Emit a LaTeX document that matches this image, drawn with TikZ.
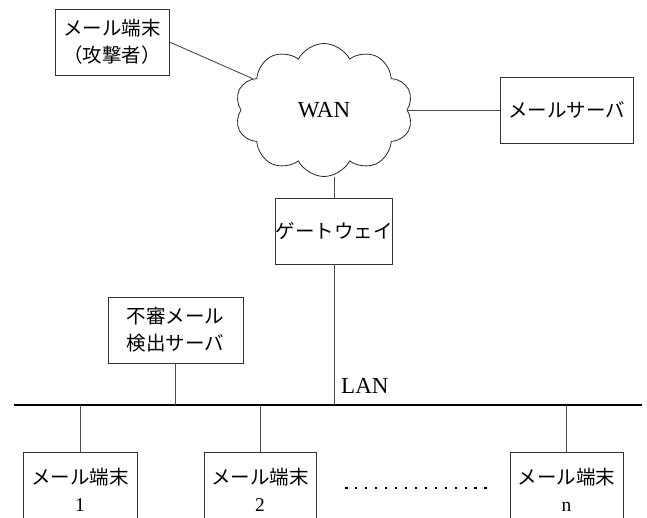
\documentclass[tikz,border=0pt]{standalone}
\usepackage{fontspec}
\setmainfont{Liberation Serif}
\newfontfamily\jp{Noto Sans CJK JP}
\usetikzlibrary{shapes.symbols}
\begin{document}
\begin{tikzpicture}[x=1pt,y=-1pt,
  box/.style={draw=black!80, line width=0.9pt, fill=white, align=center, inner sep=0pt,
    font=\jp\fontsize{19.5}{27}\selectfont},
  link/.style={draw=black!70, line width=0.9pt},
  bus/.style={draw=black, line width=1.1pt},
  latin/.style={font=\rmfamily\fontsize{23}{27}\selectfont}]
\useasboundingbox (0,0) rectangle (647,517);
\clip (0,0) rectangle (647,517);

\node[box, minimum width=114pt, minimum height=66pt] (att) at (112,42) {メール端末\\（攻撃者）};
\node[cloud, draw=black!85, line width=0.8pt, cloud puffs=10, cloud puff arc=125, aspect=1.34,
      minimum width=178pt, minimum height=133pt, inner sep=0pt, latin] (wan) at (324,110) {WAN};
\node[box, minimum width=133pt, minimum height=66pt] (srv) at (566.5,110) {メールサーバ};
\node[box, minimum width=113pt, minimum height=66pt] (gw) at (334,231) {ゲートウェイ};
\node[box, minimum width=135pt, minimum height=66pt] (sus) at (175.5,330) {不審メール\\検出サーバ};

\coordinate (lanL) at (14,405);
\coordinate (lanR) at (642,405);
\node[latin, anchor=base west, inner sep=0pt] (lan) at (341,393) {LAN};

\node[box, minimum width=114pt, minimum height=75pt] (t1) at (80,489.5) {メール端末\\{\rmfamily 1}};
\node[box, minimum width=112pt, minimum height=75pt] (t2) at (260,489.5) {メール端末\\{\rmfamily 2}};
\node[box, minimum width=113pt, minimum height=75pt] (tn) at (566.5,489.5) {メール端末\\{\rmfamily n}};

\coordinate (dotA) at (345,488);
\coordinate (dotB) at (490,488);

\draw[link] (att.east) -- (wan);
\draw[link] (srv.west) -- (srv.west -| wan.east);
\draw[link] (gw.north) -- (gw.north |- wan.south);
\draw[bus] (lanL) -- (lanR);
\draw[link] (gw.south) -- (gw.south |- lanL);
\draw[link] (sus.south) -- (sus.south |- lanL);
\draw[link] (t1.north) -- (t1.north |- lanL);
\draw[link] (t2.north) -- (t2.north |- lanL);
\draw[link] (tn.north) -- (tn.north |- lanL);
\draw[line width=2.5pt, dash pattern=on 2.5pt off 7.46pt] (dotA) -- (dotB);
\end{tikzpicture}
\end{document}
